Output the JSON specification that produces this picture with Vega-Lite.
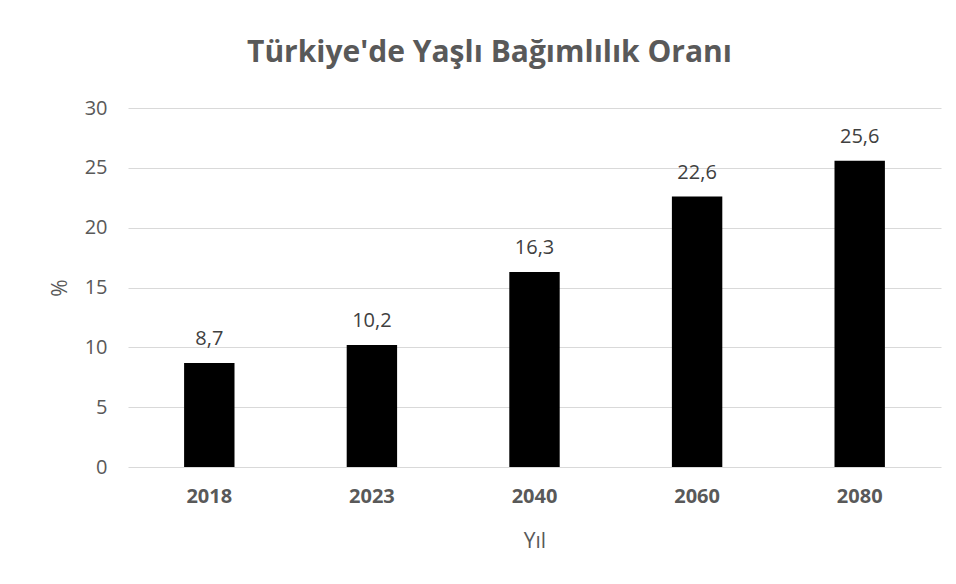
{
  "$schema": "https://vega.github.io/schema/vega-lite/v6.json",
  "autosize": {"type": "none"},
  "width": 813,
  "height": 359,
  "padding": {"left": 128, "top": 108, "right": 15, "bottom": 117},
  "background": "white",
  "title": {
    "text": "Türkiye'de Yaşlı Bağımlılık Oranı",
    "font": "Open Sans",
    "fontSize": 30,
    "fontWeight": "bold",
    "color": "#595959",
    "anchor": "middle",
    "dx": -45,
    "offset": 30
  },
  "config": {
    "locale": {"number": {"decimal": ",", "thousands": ".", "grouping": [3], "currency": ["", " TL"]}},
    "view": {"stroke": null},
    "font": "Open Sans"
  },
  "data": {
    "values": [
      {"year": "2018", "value": 8.7},
      {"year": "2023", "value": 10.2},
      {"year": "2040", "value": 16.3},
      {"year": "2060", "value": 22.6},
      {"year": "2080", "value": 25.6}
    ]
  },
  "encoding": {
    "x": {
      "field": "year",
      "type": "nominal",
      "title": "Yıl",
      "scale": {"paddingInner": 0.69, "paddingOuter": 0.345},
      "axis": {
        "labelAngle": 0,
        "labelFont": "Open Sans",
        "labelFontSize": 20,
        "labelFontWeight": "bold",
        "labelColor": "#595959",
        "labelPadding": 19,
        "ticks": false,
        "domain": false,
        "titleFont": "Open Sans",
        "titleFontSize": 21,
        "titleFontWeight": "normal",
        "titleColor": "#595959",
        "titlePadding": 24
      }
    },
    "y": {
      "field": "value",
      "type": "quantitative",
      "title": "%",
      "scale": {"domain": [0, 30]},
      "axis": {
        "values": [0, 5, 10, 15, 20, 25, 30],
        "ticks": false,
        "domain": false,
        "gridColor": "#d9d9d9",
        "gridWidth": 1,
        "labelFont": "Open Sans",
        "labelFontSize": 20,
        "labelColor": "#595959",
        "labelPadding": 21,
        "titleFont": "Open Sans",
        "titleFontSize": 21,
        "titleFontWeight": "normal",
        "titleColor": "#595959",
        "titlePadding": 14
      }
    }
  },
  "layer": [
    {"mark": {"type": "bar", "color": "#000000"}},
    {
      "mark": {"type": "text", "baseline": "bottom", "dy": -14, "fontSize": 20, "color": "#404040", "font": "Open Sans"},
      "encoding": {"text": {"field": "value", "type": "quantitative", "format": ".1f"}}
    }
  ]
}
